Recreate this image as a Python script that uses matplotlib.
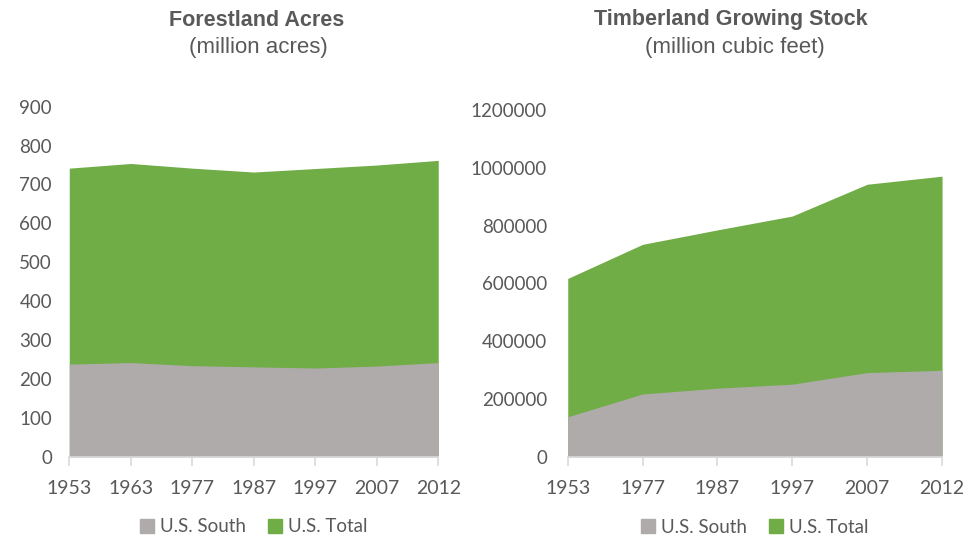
import matplotlib.pyplot as plt
from matplotlib.patches import Patch
from matplotlib.ticker import StrMethodFormatter

# Forestland acres (million acres)
years_left = ['1953', '1963', '1977', '1987', '1997', '2007', '2012']
south_acres = [238, 242, 234, 231, 228, 233, 242]
total_acres = [742, 754, 742, 732, 741, 750, 762]

# Timberland growing stock (million cubic feet)
years_right = ['1953', '1977', '1987', '1997', '2007', '2012']
south_stock = [138000, 217000, 237000, 251000, 291000, 299000]
total_stock = [617000, 735000, 785000, 833000, 943000, 971000]

GREEN = '#70AD47'
GRAY = '#AFABAB'
TEXT = '#595959'
AXIS = '#D9D9D9'

plt.rcParams['font.family'] = ['Lato', 'DejaVu Sans']

fig = plt.figure(figsize=(9.7, 5.4), dpi=100)
ax1 = fig.add_axes([0.0714, 0.1543, 0.3804, 0.6481])
ax2 = fig.add_axes([0.5853, 0.1543, 0.3859, 0.6420])


def draw_panel(ax, cats, south, total, ymax, ystep, ypad, leg_y):
    x = list(range(len(cats)))
    ax.fill_between(x, 0, total, color=GREEN, linewidth=0)
    ax.fill_between(x, 0, south, color=GRAY, linewidth=0)
    ax.set_xlim(0, len(cats) - 1)
    ax.set_ylim(0, ymax)
    ax.set_xticks(x)
    ax.set_xticklabels(cats)
    ax.set_yticks(range(0, ymax + 1, ystep))
    ax.yaxis.set_major_formatter(StrMethodFormatter('{x:.0f}'))
    for s in ['top', 'right', 'left']:
        ax.spines[s].set_visible(False)
    ax.spines['bottom'].set_color(AXIS)
    ax.spines['bottom'].set_linewidth(1.2)
    ax.tick_params(axis='x', direction='out', length=6.5, width=1.2, color=AXIS,
                   labelsize=14, labelcolor=TEXT, pad=10)
    ax.tick_params(axis='y', length=0, labelsize=13.5, labelcolor=TEXT, pad=ypad)
    handles = [Patch(color=GRAY, label='U.S. South'), Patch(color=GREEN, label='U.S. Total')]
    ax.legend(handles=handles, loc='center', bbox_to_anchor=(0.5, leg_y), ncol=2,
              frameon=False, fontsize=13.5, labelcolor=TEXT, handlelength=0.75,
              handleheight=0.75, handletextpad=0.3, columnspacing=1.2)


draw_panel(ax1, years_left, south_acres, total_acres, 900, 100, 12.5, -0.2)
draw_panel(ax2, years_right, south_stock, total_stock, 1200000, 200000, 15, -0.203)

title_font = ['Liberation Sans Narrow', 'Liberation Sans', 'DejaVu Sans']
fig.text(257 / 970, 1 - 20 / 540, 'Forestland Acres', ha='center', va='center',
         fontsize=15.5, fontweight='bold', color=TEXT, family=title_font)
fig.text(258 / 970, 1 - 47 / 540, '(million acres)', ha='center', va='center',
         fontsize=16, color=TEXT, family=title_font)
fig.text(731 / 970, 1 - 20 / 540, 'Timberland Growing Stock', ha='center', va='center',
         fontsize=15.5, fontweight='bold', color=TEXT, family=title_font)
fig.text(735 / 970, 1 - 47 / 540, '(million cubic feet)', ha='center', va='center',
         fontsize=16, color=TEXT, family=title_font)

fig.savefig('out.png', dpi=100, facecolor='white')
